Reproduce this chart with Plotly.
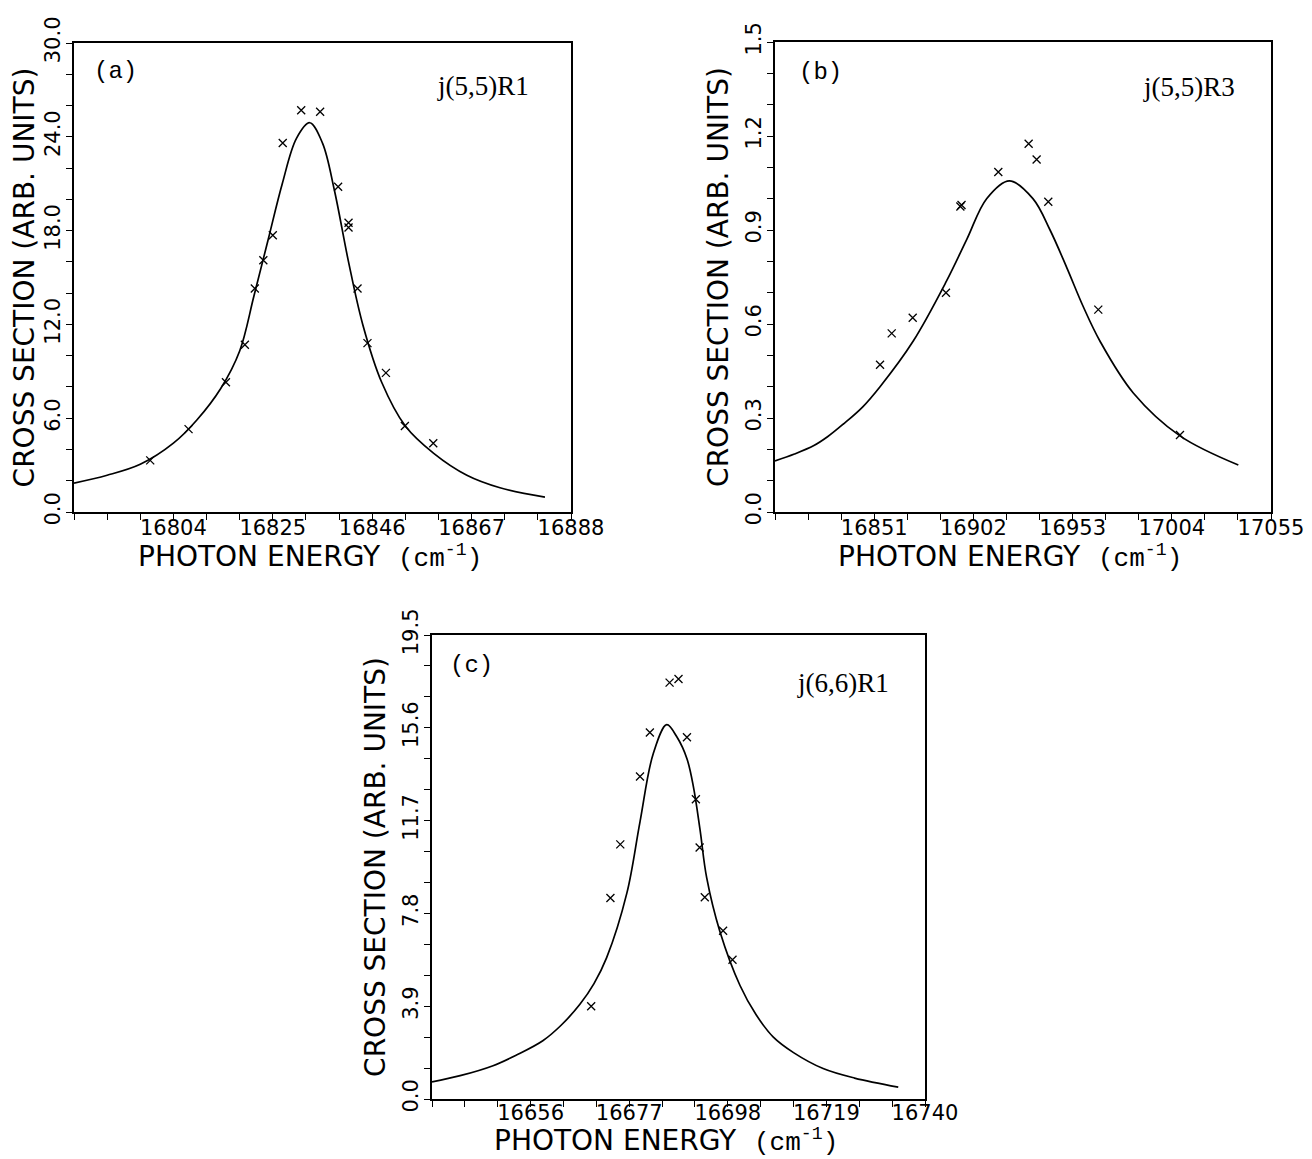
import plotly.graph_objects as go

# ---------------- data ----------------
# panel (a)  j(5,5)R1
a_meas_x = [16799.1, 16807.2, 16815.1, 16819.1, 16821.2, 16823.0, 16825.0, 16827.1, 16831.0,
            16835.0, 16838.8, 16841.0, 16841.0, 16842.9, 16845.0, 16848.9, 16852.9, 16858.9]
a_meas_y = [3.3, 5.3, 8.3, 10.7, 14.3, 16.1, 17.7, 23.6, 25.7,
            25.6, 20.8, 18.5, 18.2, 14.3, 10.8, 8.9, 5.5, 4.4]
a_fit_x = [16783, 16790, 16797, 16804, 16809, 16814, 16818, 16821, 16824, 16827, 16830,
           16832.8, 16835.5, 16838, 16841, 16844, 16848, 16853, 16859, 16866, 16873, 16882.5]
a_fit_y = [1.85, 2.35, 3.05, 4.4, 5.9, 7.9, 10.3, 13.8, 17.4, 21.0, 23.9,
           24.9, 23.6, 20.6, 16.0, 12.0, 8.3, 5.5, 3.75, 2.35, 1.55, 0.95]
a_xticks = [16804, 16825, 16846, 16867, 16888]
a_yticks = [0.0, 6.0, 12.0, 18.0, 24.0, 30.0]

# panel (b)  j(5,5)R3
b_meas_x = [16854.0, 16860.0, 16870.8, 16887.9, 16895.3, 16895.9, 16914.8, 16930.4,
            16934.5, 16940.5, 16966.2, 17008.2]
b_meas_y = [0.47, 0.57, 0.62, 0.70, 0.975, 0.98, 1.085, 1.175,
            1.125, 0.99, 0.646, 0.246]
b_fit_x = [16800, 16810, 16820, 16827, 16835, 16845, 16854, 16871, 16888, 16898.6, 16908.8,
           16920.5, 16932.6, 16941.4, 16950, 16958.5, 16967.1, 16984.2, 17008.2, 17038.2]
b_fit_y = [0.163, 0.185, 0.212, 0.24, 0.28, 0.335, 0.40, 0.545, 0.735, 0.87, 1.0,
           1.057, 1.0, 0.90, 0.78, 0.655, 0.545, 0.38, 0.243, 0.15]
b_xticks = [16851, 16902, 16953, 17004, 17055]
b_yticks = [0.0, 0.3, 0.6, 0.9, 1.2, 1.5]

# panel (c)  j(6,6)R1
c_meas_x = [16668.9, 16673.0, 16675.1, 16679.3, 16681.4, 16685.6, 16687.5, 16689.3,
            16691.2, 16692.0, 16693.1, 16697.0, 16699.0]
c_meas_y = [3.9, 8.45, 10.7, 13.55, 15.4, 17.5, 17.65, 15.2,
            12.6, 10.57, 8.48, 7.07, 5.85]
c_fit_x = [16635, 16641, 16648.0, 16653, 16658.6, 16662.5, 16666.5, 16669.5, 16672.2, 16676.5,
           16679.3, 16682.1, 16685.0, 16687.2, 16689.3, 16690.7, 16692.1, 16693.5, 16696.3,
           16700.6, 16704, 16707.7, 16712, 16718.3, 16725, 16734.3]
c_fit_y = [0.72, 0.98, 1.4, 1.85, 2.45, 3.1, 3.98, 4.85, 5.94, 8.65,
           11.65, 14.5, 15.73, 15.2, 14.3, 13.1, 11.3, 9.3, 7.05,
           4.77, 3.55, 2.6, 1.95, 1.28, 0.88, 0.5]
c_xticks = [16656, 16677, 16698, 16719, 16740]
c_yticks = [0.0, 3.9, 7.8, 11.7, 15.6, 19.5]

panel_labels = ["(a)", "(b)", "(c)"]
line_names = ["j(5,5)R1", "j(5,5)R3", "j(6,6)R1"]

# ---------------- figure ----------------
OFF = 8                      # page body margin
W, H = 1312 - OFF, 1159 - OFF
TICKFONT = dict(family="DejaVu Sans", size=21, color="black")
TITLEFONT = dict(family="DejaVu Sans", size=28, color="black")
XTITLE = ("PHOTON ENERGY  <span style='font-family:Liberation Mono;font-size:26px'>"
          "(cm<sup>-1</sup>)</span>")
YTITLE = "CROSS SECTION (ARB. UNITS)"

fig = go.Figure()

panels = [
    (a_fit_x, a_fit_y, a_meas_x, a_meas_y, "x", "y"),
    (b_fit_x, b_fit_y, b_meas_x, b_meas_y, "x2", "y2"),
    (c_fit_x, c_fit_y, c_meas_x, c_meas_y, "x3", "y3"),
]
for fx, fy, mx, my, xa, ya in panels:
    fig.add_trace(go.Scatter(x=fx, y=fy, mode="lines", xaxis=xa, yaxis=ya,
                             line=dict(color="black", width=1.7, shape="spline", smoothing=1.0),
                             showlegend=False, hoverinfo="skip"))
    fig.add_trace(go.Scatter(x=mx, y=my, mode="markers", xaxis=xa, yaxis=ya,
                             marker=dict(symbol="x-thin", size=8, color="black",
                                         line=dict(color="black", width=1.3)),
                             showlegend=False))


def px_x(p):
    return (p - OFF) / W


def px_y(p):
    return 1 - (p - OFF) / H


def xaxis(dom, anchor, rng, ticks, dminor, standoff=-10):
    return dict(domain=dom, anchor=anchor, range=rng, tickmode="array", automargin=False,
                tickvals=ticks, ticktext=[str(t) for t in ticks], ticklabelstandoff=standoff,
                ticks="outside", ticklen=6, tickwidth=1.3, tickcolor="black",
                showline=True, linecolor="black", linewidth=1.6, mirror=True,
                showgrid=False, zeroline=False, tickfont=TICKFONT,
                minor=dict(ticks="outside", ticklen=6, tickwidth=1.3, tickcolor="black",
                           tickmode="linear", tick0=rng[0], dtick=dminor, showgrid=False))


def yaxis(dom, anchor, rng, ticks, dminor, fmt):
    return dict(domain=dom, anchor=anchor, range=rng, tickmode="array", automargin=False,
                tickvals=ticks, ticktext=[fmt.format(t) for t in ticks], tickangle=-90,
                ticklabelstandoff=-2,
                ticks="outside", ticklen=6, tickwidth=1.3, tickcolor="black",
                showline=True, linecolor="black", linewidth=1.6, mirror=True,
                showgrid=False, zeroline=False, tickfont=TICKFONT,
                minor=dict(ticks="outside", ticklen=6, tickwidth=1.3, tickcolor="black",
                           tickmode="linear", tick0=0, dtick=dminor, showgrid=False),
                title=dict(text=YTITLE, font=TITLEFONT, standoff=5))


fig.update_layout(
    width=W, height=H, margin=dict(l=0, r=0, t=0, b=0, autoexpand=False),
    paper_bgcolor="white", plot_bgcolor="white",
    xaxis=xaxis([px_x(74), px_x(571)], "y", [16783, 16888], a_xticks, 7),
    yaxis=yaxis([px_y(512), px_y(43)], "x", [0, 30], a_yticks, 2, "{:.1f}"),
    xaxis2=xaxis([px_x(775), px_x(1271)], "y2", [16800, 17055], b_xticks, 17),
    yaxis2=yaxis([px_y(512), px_y(42)], "x2", [0, 1.5], b_yticks, 0.1, "{:.1f}"),
    xaxis3=xaxis([px_x(432), px_x(925)], "y3", [16635, 16740], c_xticks, 7, standoff=-12),
    yaxis3=yaxis([px_y(1099), px_y(635)], "x3", [0, 19.5], c_yticks, 1.3, "{:.1f}"),
)

ann_pos = [
    ((116, 71), (483, 86), (310, 557)),
    ((820, 72), (1189, 87), (1010, 557)),
    ((471, 665), (843, 683), (666, 1141)),
]
for lab, name, (p1, p2, p3) in zip(panel_labels, line_names, ann_pos):
    fig.add_annotation(text=lab, x=px_x(p1[0]), y=px_y(p1[1]), xref="paper", yref="paper",
                       showarrow=False, xanchor="center", yanchor="middle",
                       font=dict(family="Liberation Mono", size=24, color="black"))
    fig.add_annotation(text=name, x=px_x(p2[0]), y=px_y(p2[1]), xref="paper", yref="paper",
                       showarrow=False, xanchor="center", yanchor="middle",
                       font=dict(family="Liberation Serif", size=27, color="black"))
    fig.add_annotation(text=XTITLE, x=px_x(p3[0]), y=px_y(p3[1]), xref="paper", yref="paper",
                       showarrow=False, xanchor="center", yanchor="middle",
                       font=TITLEFONT)

fig.write_html("out.html")
